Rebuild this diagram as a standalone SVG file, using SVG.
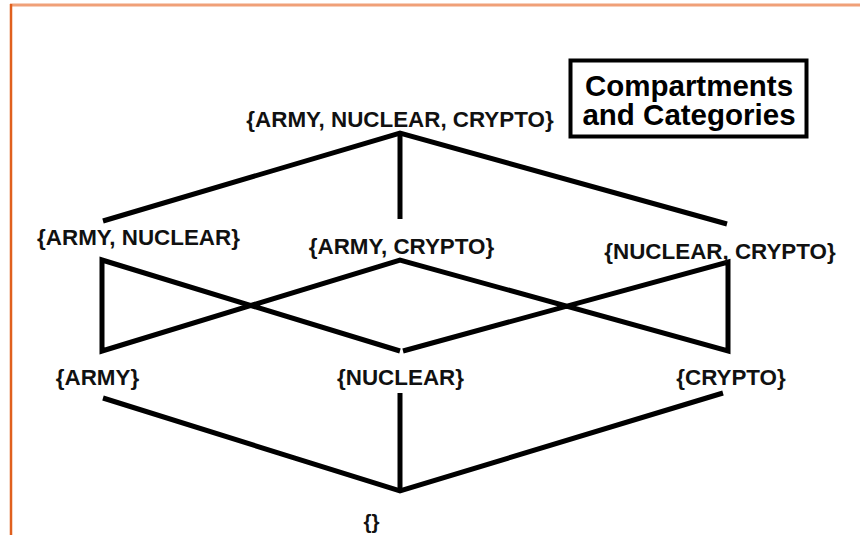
<svg xmlns="http://www.w3.org/2000/svg" width="860" height="535" viewBox="0 0 860 535">
  <style>
    .edge { stroke: #000; stroke-width: 5; fill: none; stroke-linecap: butt; stroke-linejoin: miter; }
    .lbl { font-family: "Liberation Sans", Arial, sans-serif; font-weight: bold; font-size: 22.4px; fill: #111; text-anchor: middle; }
    .title { font-family: "Liberation Sans", Arial, sans-serif; font-weight: bold; font-size: 29.5px; fill: #000; text-anchor: middle; }
  </style>
  <rect width="860" height="535" fill="#fff"/>
  <!-- page frame -->
  <line x1="10" y1="5" x2="860" y2="5" stroke="#F0A078" stroke-width="3"/>
  <line x1="11" y1="4" x2="11" y2="535" stroke="#E0601E" stroke-width="2.5"/>

  <!-- title box -->
  <g id="title">
    <rect x="570.5" y="60.5" width="236" height="76" fill="#fff" stroke="#000" stroke-width="4"/>
    <text class="title" x="689" y="96">Compartments</text>
    <text class="title" x="689" y="125">and Categories</text>
  </g>

  <!-- lattice edges -->
  <g id="connectors">
    <polyline class="edge" points="103,221 400,133 727,224"/>
    <line class="edge" x1="400" y1="133" x2="400" y2="219"/>
    <polyline class="edge" points="400,351 102,260 102,351 400,260 728,351 728,262 403,351"/>
    <polyline class="edge" points="103,398 400,491 723,393"/>
    <line class="edge" x1="400" y1="393" x2="400" y2="491"/>
  </g>

  <g id="n-all"><text class="lbl" x="400" y="127">{ARMY, NUCLEAR, CRYPTO}</text></g>
  <g id="n-army-nuclear"><text class="lbl" x="138.5" y="245">{ARMY, NUCLEAR}</text></g>
  <g id="n-army-crypto"><text class="lbl" x="401.5" y="254">{ARMY, CRYPTO}</text></g>
  <g id="n-nuclear-crypto"><text class="lbl" x="720" y="259">{NUCLEAR, CRYPTO}</text></g>
  <g id="n-army"><text class="lbl" x="97.5" y="385">{ARMY}</text></g>
  <g id="n-nuclear"><text class="lbl" x="400.5" y="385">{NUCLEAR}</text></g>
  <g id="n-crypto"><text class="lbl" x="731" y="385">{CRYPTO}</text></g>
  <g id="n-empty"><text class="lbl" x="371.5" y="529" style="font-size:20.5px">{}</text></g>
</svg>
